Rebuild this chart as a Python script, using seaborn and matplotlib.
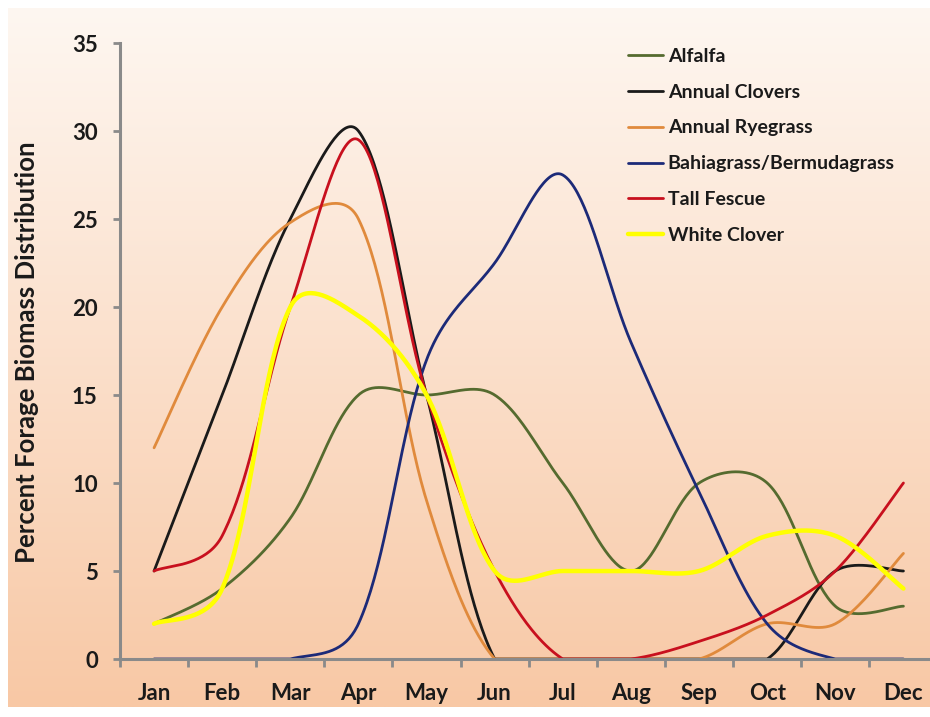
import numpy as np
import pandas as pd
import matplotlib
matplotlib.use("Agg")
import matplotlib.pyplot as plt
import seaborn as sns

# data (percent of yearly forage biomass per month)
months = ["Jan", "Feb", "Mar", "Apr", "May", "Jun", "Jul", "Aug", "Sep", "Oct", "Nov", "Dec"]
alfalfa = [2, 4, 8, 15, 15, 15, 10, 5, 10, 10, 3, 3]
annual_clovers = [5, 15, 25, 30, 15, 0, 0, 0, 0, 0, 5, 5]
annual_ryegrass = [12, 20, 24.8, 25, 9, 0, 0, 0, 0, 2, 2, 6]
bahia_bermuda = [0, 0, 0, 2, 17, 22.5, 27.5, 18, 9.5, 2, 0, 0]
tall_fescue = [5, 7, 20, 29.5, 15, 5, 0, 0, 1, 2.5, 5, 10]
white_clover = [2, 4, 20, 19.5, 15, 5, 5, 5, 5, 7, 7, 4]

series_names = ["Alfalfa", "Annual Clovers", "Annual Ryegrass",
                "Bahiagrass/Bermudagrass", "Tall Fescue", "White Clover"]
series_vals = [alfalfa, annual_clovers, annual_ryegrass, bahia_bermuda, tall_fescue, white_clover]
colors = ["#556B2F", "#1A1A1A", "#E08A3C", "#1C2A78", "#C8101E", "#FFFF00"]
widths = [2.0, 2.0, 2.0, 2.0, 2.0, 3.2]


def smooth(vals, n=40, sx=68.1, sy=17.6):
    # excel-like smoothed line: bezier segments, control arms weighted by
    # the (square root of the) neighbouring segment lengths in screen pixels
    p = np.column_stack([np.arange(len(vals)) * sx, np.asarray(vals, float) * sy])
    k = len(p)
    fwd = np.zeros_like(p)
    back = np.zeros_like(p)
    for i in range(k):
        if i == 0:
            fwd[i] = (p[1] - p[0]) / 6
        elif i == k - 1:
            back[i] = (p[-1] - p[-2]) / 6
        else:
            d = p[i + 1] - p[i - 1]
            l0 = np.sqrt(np.hypot(*(p[i] - p[i - 1])))
            l1 = np.sqrt(np.hypot(*(p[i + 1] - p[i])))
            fwd[i] = d * l1 / (l0 + l1) / 3
            back[i] = d * l0 / (l0 + l1) / 3
    t = np.linspace(0, 1, n, endpoint=False)[:, None]
    pts = []
    for i in range(k - 1):
        b0, b1, b2, b3 = p[i], p[i] + fwd[i], p[i + 1] - back[i + 1], p[i + 1]
        pts.append((1 - t)**3 * b0 + 3 * (1 - t)**2 * t * b1 + 3 * (1 - t) * t**2 * b2 + t**3 * b3)
    pts.append(p[-1:])
    pts = np.vstack(pts)
    # axis minimum is 0, anything below is hidden like in the original
    return pts[:, 0] / sx, np.clip(pts[:, 1] / sy, 0, None)


sns.set_style("ticks")
plt.rcParams["font.family"] = ["Lato", "DejaVu Sans"]

fig = plt.figure(figsize=(9.3, 7.17), dpi=100)
fig.patch.set_facecolor("white")

# gradient background
bg = fig.add_axes([8 / 930, 10 / 717, 1 - 8 / 930, 1 - 18 / 717])
top = np.array([254, 247, 241]) / 255
bottom = np.array([248, 200, 165]) / 255
grad = np.linspace(0, 1, 256)[:, None, None]
img = top + (bottom - top) * grad
bg.imshow(np.repeat(img, 2, axis=1), aspect="auto", extent=[0, 1, 0, 1])
bg.set_axis_off()

ax = fig.add_axes([120 / 930, 58 / 717, 810 / 930, 616 / 717])
ax.set_facecolor("none")

for name, vals, c, lw in zip(series_names, series_vals, colors, widths):
    x, y = smooth(vals)
    sns.lineplot(x=x, y=y, ax=ax, color=c, linewidth=lw, label=name,
                 sort=False, estimator=None, clip_on=False)

ax.set_xlim(-0.5, 11.39)
ax.set_ylim(0, 35)
ax.set_yticks(range(0, 36, 5))
ax.set_xticks(range(12))
ax.set_xticklabels(months)
ax.set_xticks(np.arange(-0.5, 11, 1), minor=True)

gray = "#8A8A8A"
for s in ["top", "right"]:
    ax.spines[s].set_visible(False)
for s in ["left", "bottom"]:
    ax.spines[s].set_color(gray)
    ax.spines[s].set_linewidth(2.2)
ax.tick_params(axis="x", which="major", length=0, pad=17, labelsize=16)
ax.tick_params(axis="x", which="minor", length=6, width=2, color=gray, direction="out")
ax.tick_params(axis="y", length=5, width=2, color=gray, pad=11, labelsize=16)
for lab in ax.get_xticklabels() + ax.get_yticklabels():
    lab.set_fontweight("bold")
    lab.set_color("#1A1A1A")

ax.set_xlabel("")
ax.set_ylabel("Percent Forage Biomass Distribution", fontsize=18.5, fontweight="bold", color="#1A1A1A")
ax.yaxis.set_label_coords(-0.1, 0.498)

leg = ax.legend(loc="upper left", bbox_to_anchor=(620 / 930, 1 - 40 / 717), bbox_transform=fig.transFigure,
                frameon=False, fontsize=14, handlelength=1.8, handletextpad=0.25, labelspacing=0.97,
                borderaxespad=0)
for t in leg.get_texts():
    t.set_fontweight("bold")
    t.set_color("#1A1A1A")

fig.savefig("out.png", dpi=100)
